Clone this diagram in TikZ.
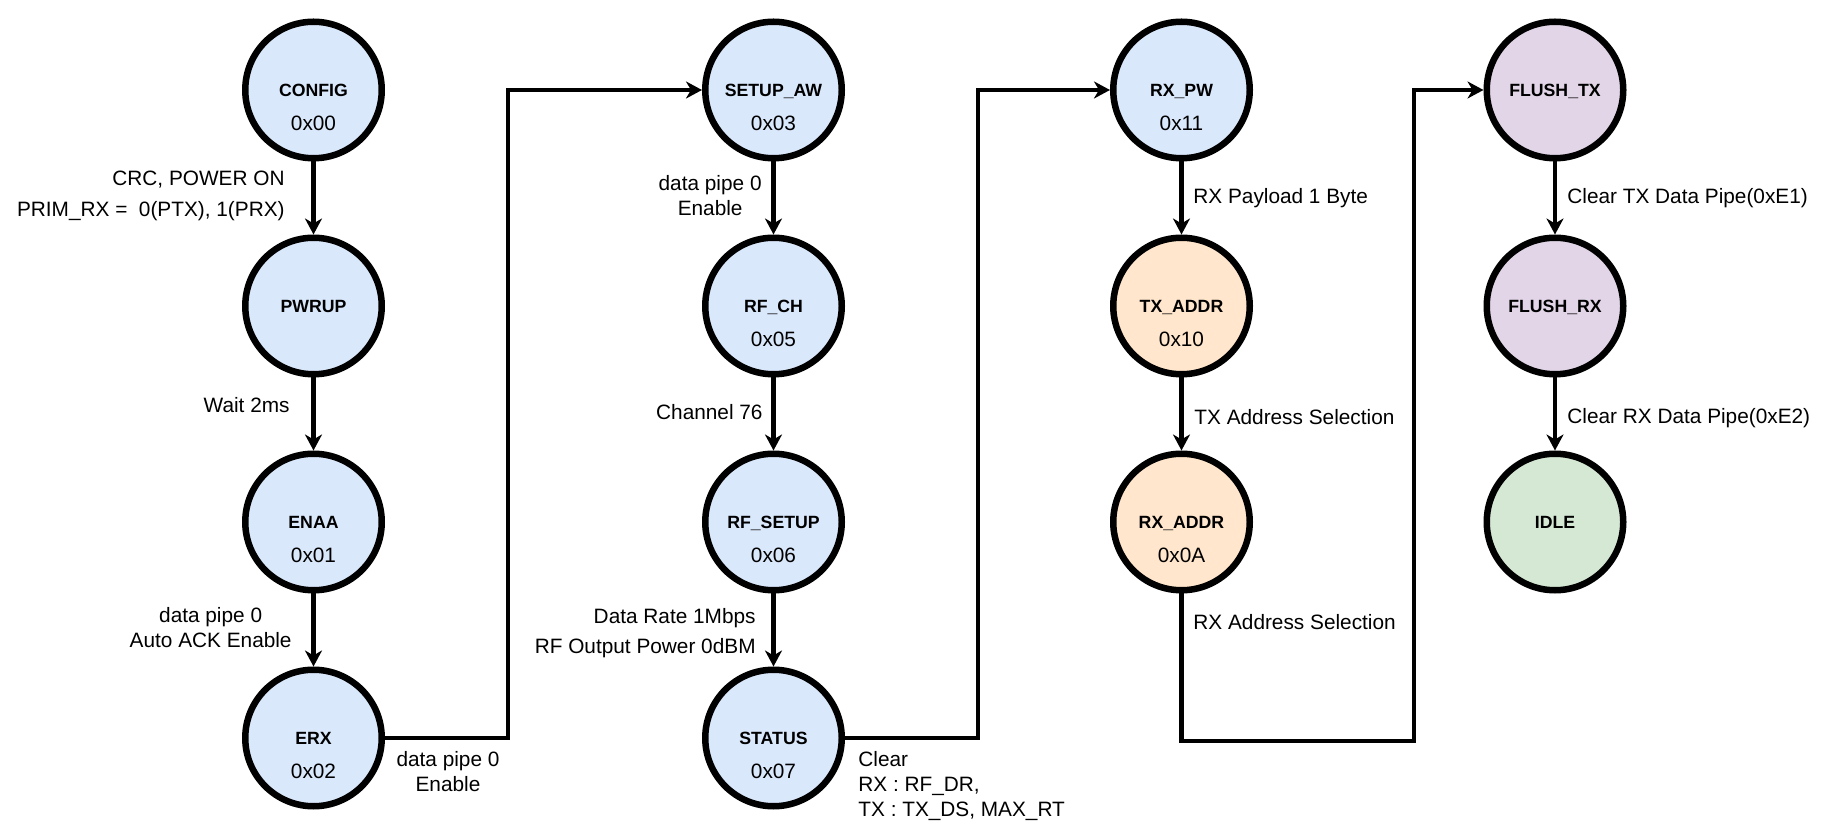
\documentclass[tikz,border=0pt]{standalone}
\usepackage{fontspec}
\setmainfont{Liberation Sans}
\usetikzlibrary{arrows.meta, positioning, calc}

\definecolor{regblue}{HTML}{DAE8FC}
\definecolor{addrorange}{HTML}{FFE6CC}
\definecolor{flushpurple}{HTML}{E1D5E7}
\definecolor{idlegreen}{HTML}{D5E8D4}

\begin{document}
\begin{tikzpicture}[
    x=0.5pt, y=-0.5pt, % 1 unit = 1 px of the original
    every node/.style={font=\fontsize{10.4}{12.5}\selectfont, inner sep=0pt, text depth=0pt}, % labels
    reg/.style={circle, draw=black, line width=3.25pt, minimum size=68.25pt,
        font=\bfseries\fontsize{8.85}{10}\selectfont}, % register state
    addr/.style={label={[font=\fontsize{10.4}{12.5}\selectfont, yshift=-16.75pt]center:#1}}, % register address
    flow/.style={line width=2.45pt, -{Stealth[length=8pt, width=8.5pt, inset=2.5pt]}} % connector
]
    \useasboundingbox (0,0) rectangle (1838,839);

    % 1. column 1: CONFIG -> ERX
    \node[reg, fill=regblue, addr=0x00] (config) at (313.5,90)  {CONFIG};
    \node[reg, fill=regblue]            (pwrup)  at (313.5,306) {PWRUP};
    \node[reg, fill=regblue, addr=0x01] (enaa)   at (313.5,522) {ENAA};
    \node[reg, fill=regblue, addr=0x02] (erx)    at (313.5,738) {ERX};

    % 2. column 2: SETUP_AW -> STATUS
    \node[reg, fill=regblue, addr=0x03] (setupaw) at (773.5,90)  {SETUP\_AW};
    \node[reg, fill=regblue, addr=0x05] (rfch)    at (773.5,306) {RF\_CH};
    \node[reg, fill=regblue, addr=0x06] (rfsetup) at (773.5,522) {RF\_SETUP};
    \node[reg, fill=regblue, addr=0x07] (status)  at (773.5,738) {STATUS};

    % 3. column 3: RX_PW -> RX_ADDR
    \node[reg, fill=regblue,    addr=0x11] (rxpw)   at (1181.5,90)  {RX\_PW};
    \node[reg, fill=addrorange, addr=0x10] (txaddr) at (1181.5,306) {TX\_ADDR};
    \node[reg, fill=addrorange, addr=0x0A] (rxaddr) at (1181.5,522) {RX\_ADDR};

    % 4. column 4: FLUSH_TX -> IDLE
    \node[reg, fill=flushpurple] (flushtx) at (1555,90)  {FLUSH\_TX};
    \node[reg, fill=flushpurple] (flushrx) at (1555,306) {FLUSH\_RX};
    \node[reg, fill=idlegreen]   (idle)    at (1555,522) {IDLE};

    % 5. straight connectors
    \foreach \a/\b in {config/pwrup, pwrup/enaa, enaa/erx,
                       setupaw/rfch, rfch/rfsetup, rfsetup/status,
                       rxpw/txaddr, txaddr/rxaddr,
                       flushtx/flushrx, flushrx/idle} {
        \draw[flow] (\a) -- (\b);
    }

    % 6. connectors between columns
    \coordinate (jumpA) at (508,738);
    \coordinate (jumpB) at (978,738);
    \coordinate (jumpC) at (1414,741);
    \draw[flow] (erx.east) -- (jumpA) |- (setupaw.west);
    \draw[flow] (status.east) -- (jumpB) |- (rxpw.west);
    \draw[flow] (rxaddr.south) |- (jumpC) |- (flushtx.west);

    % 7. connector labels
    \node[anchor=east, align=right]  (lblcrc)   at (285,193.5) {CRC, POWER ON\\[3pt]PRIM\_RX =\ \ 0(PTX), 1(PRX)};
    \node[anchor=east]               (lblwait)  at (290,405)   {Wait 2ms};
    \node[anchor=east, align=center] (lblenaa)  at (292,627.5) {data pipe 0\\Auto ACK Enable};
    \node[align=center]              (lblerx)   at (448,771.5) {data pipe 0\\Enable};
    \node[anchor=east, align=center] (lblsetup) at (762,195.5) {data pipe 0\\Enable};
    \node[anchor=east]               (lblch)    at (763,412)   {Channel 76};
    \node[anchor=east, align=right]  (lblrate)  at (756,631)   {Data Rate 1Mbps\\[2.5pt]RF Output Power 0dBM};
    \node[anchor=west, align=left]   (lblclear) at (858,783.5) {Clear\\RX : RF\_DR,\\TX : TX\_DS, MAX\_RT};
    \node[anchor=west]               (lblpw)    at (1193,196)  {RX Payload 1 Byte};
    \node[anchor=west]               (lbltx)    at (1194,417)  {TX Address Selection};
    \node[anchor=west]               (lblrx)    at (1193,622)  {RX Address Selection};
    \node[anchor=west]               (lblftx)   at (1567,196)  {Clear TX Data Pipe(0xE1)};
    \node[anchor=west]               (lblfrx)   at (1567,416)  {Clear RX Data Pipe(0xE2)};

\end{tikzpicture}
\end{document}
